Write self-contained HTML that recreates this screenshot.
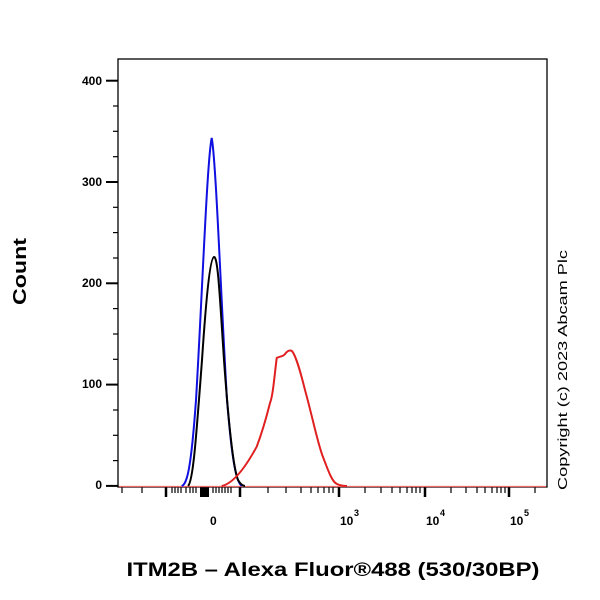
<!DOCTYPE html>
<html><head><style>body{margin:0;background:#fff}svg{display:block}</style></head><body>
<svg width="600" height="600" viewBox="0 0 600 600" font-family="Liberation Sans, sans-serif">
<rect x="0" y="0" width="600" height="600" fill="#fff"/>
<rect x="118" y="59" width="429" height="428" fill="none" stroke="#000" stroke-width="1.3"/>
<g stroke="#000" stroke-width="2">
<line x1="106" y1="80.7" x2="118" y2="80.7"/><line x1="106" y1="182" x2="118" y2="182"/><line x1="106" y1="283.3" x2="118" y2="283.3"/><line x1="106" y1="384.6" x2="118" y2="384.6"/><line x1="106" y1="485.9" x2="118" y2="485.9"/>
</g>
<g stroke="#000" stroke-width="1.2">
<line x1="113" y1="106" x2="118" y2="106"/><line x1="113" y1="131.3" x2="118" y2="131.3"/><line x1="113" y1="156.7" x2="118" y2="156.7"/>
<line x1="113" y1="207.3" x2="118" y2="207.3"/><line x1="113" y1="232.6" x2="118" y2="232.6"/><line x1="113" y1="258" x2="118" y2="258"/>
<line x1="113" y1="308.6" x2="118" y2="308.6"/><line x1="113" y1="334" x2="118" y2="334"/><line x1="113" y1="359.3" x2="118" y2="359.3"/>
<line x1="113" y1="410" x2="118" y2="410"/><line x1="113" y1="435.3" x2="118" y2="435.3"/><line x1="113" y1="460.6" x2="118" y2="460.6"/>
</g>
<g font-size="12" font-weight="bold" text-anchor="end">
<text x="102" y="85">400</text><text x="102" y="186">300</text><text x="102" y="287">200</text><text x="102" y="388">100</text><text x="102" y="489">0</text>
</g>
<g stroke="#000" stroke-width="1.2">
<line x1="122" y1="487" x2="122" y2="493"/><line x1="142" y1="487" x2="142" y2="493"/>
<line x1="172" y1="487" x2="172" y2="493"/><line x1="175" y1="487" x2="175" y2="493"/><line x1="178" y1="487" x2="178" y2="493"/><line x1="181" y1="487" x2="181" y2="493"/><line x1="186" y1="487" x2="186" y2="493"/><line x1="190" y1="487" x2="190" y2="493"/><line x1="193" y1="487" x2="193" y2="493"/><line x1="196" y1="487" x2="196" y2="493"/>
<line x1="213" y1="487" x2="213" y2="493"/><line x1="216" y1="487" x2="216" y2="493"/><line x1="219" y1="487" x2="219" y2="493"/><line x1="222" y1="487" x2="222" y2="493"/><line x1="225" y1="487" x2="225" y2="493"/><line x1="228" y1="487" x2="228" y2="493"/><line x1="231" y1="487" x2="231" y2="493"/>
<line x1="268" y1="487" x2="268" y2="493"/><line x1="286" y1="487" x2="286" y2="493"/><line x1="301" y1="487" x2="301" y2="493"/><line x1="311" y1="487" x2="311" y2="493"/><line x1="318" y1="487" x2="318" y2="493"/><line x1="324" y1="487" x2="324" y2="493"/><line x1="329" y1="487" x2="329" y2="493"/><line x1="333" y1="487" x2="333" y2="493"/>
<line x1="365" y1="487" x2="365" y2="493"/><line x1="381" y1="487" x2="381" y2="493"/><line x1="392" y1="487" x2="392" y2="493"/><line x1="400" y1="487" x2="400" y2="493"/><line x1="407" y1="487" x2="407" y2="493"/><line x1="412" y1="487" x2="412" y2="493"/><line x1="416" y1="487" x2="416" y2="493"/><line x1="420" y1="487" x2="420" y2="493"/>
<line x1="451" y1="487" x2="451" y2="493"/><line x1="466" y1="487" x2="466" y2="493"/><line x1="477" y1="487" x2="477" y2="493"/><line x1="485" y1="487" x2="485" y2="493"/><line x1="492" y1="487" x2="492" y2="493"/><line x1="497" y1="487" x2="497" y2="493"/><line x1="501" y1="487" x2="501" y2="493"/><line x1="505" y1="487" x2="505" y2="493"/>
<line x1="535" y1="487" x2="535" y2="493"/>
</g>
<g stroke="#000" stroke-width="2.5">
<line x1="166" y1="487" x2="166" y2="497"/><line x1="240" y1="487" x2="240" y2="497"/><line x1="339" y1="487" x2="339" y2="497"/><line x1="425" y1="487" x2="425" y2="497"/><line x1="509" y1="487" x2="509" y2="497"/>
</g>
<rect x="200" y="487" width="9" height="10" fill="#000"/>
<g font-size="12" font-weight="bold">
<text x="210" y="525">0</text>
<text x="340" y="525">10</text><text x="354" y="516" font-size="9">3</text>
<text x="426" y="525">10</text><text x="440" y="516" font-size="9">4</text>
<text x="510" y="525">10</text><text x="524" y="516" font-size="9">5</text>
</g>
<line x1="119" y1="486.5" x2="546" y2="486.5" stroke="#e66" stroke-width="1.2"/>
<path d="M181.7,486 C187,484 191,470 196,400 C202,300 207,160 211.7,138 C216,160 221,300 227,400 C232,460 236,482 241.7,486" fill="none" stroke="#1010e0" stroke-width="2"/>
<path d="M188,486 C193,482 196,440 202,360 C206,300 210,258 214,257 C218,256 220,300 224,360 C229,430 234,470 238,480 C241,485 243,486 245,486" fill="none" stroke="#000" stroke-width="2"/>
<path d="M221.7,486 C232,484 244,470 256.7,446.7 C263,430 267,415 270,403 C273,395 274,380 276.7,358 C280,356 283,357 285,354 C288,350 290,350 292,351 C296,356 300,370 305,390 C312,415 318,445 323,457 C328,470 332,482 337,484 C341,486 344,486 347,486" fill="none" stroke="#e02020" stroke-width="2"/>
<text x="26" y="271.5" font-size="18" font-weight="bold" text-anchor="middle" textLength="67" lengthAdjust="spacingAndGlyphs" transform="rotate(-90 26 271.5)">Count</text>
<text x="333" y="576" font-size="19" font-weight="bold" text-anchor="middle" textLength="413" lengthAdjust="spacingAndGlyphs">ITM2B – Alexa Fluor®488 (530/30BP)</text>
<text x="567" y="370" font-size="13" text-anchor="middle" textLength="240" lengthAdjust="spacingAndGlyphs" transform="rotate(-90 567 370)">Copyright (c) 2023 Abcam Plc</text>
</svg>
</body></html>
